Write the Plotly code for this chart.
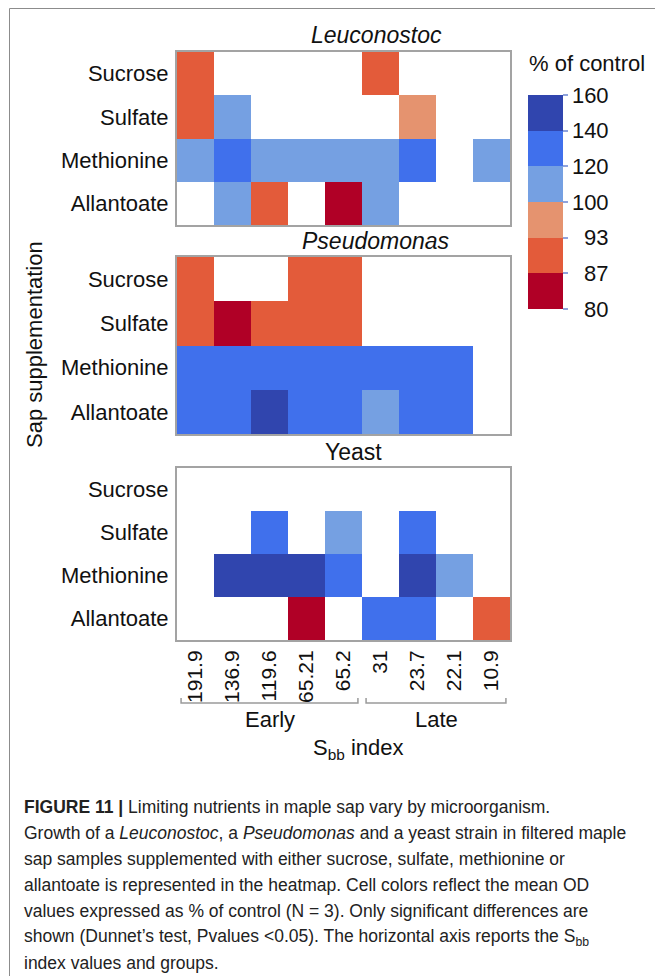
import numpy as np
import plotly.graph_objects as go

# ---------------- data ----------------
sbb_index = ["191.9", "136.9", "119.6", "65.21", "65.2", "31", "23.7", "22.1", "10.9"]
supplements = ["Sucrose", "Sulfate", "Methionine", "Allantoate"]
groups = ["Early", "Late"]
group_members = [5, 4]  # number of S_bb columns per group

# mean OD as % of control (blank = not significant)
leuconostoc = [
    [89, None, None, None, None, 90, None, None, None],
    [90, 112, None, None, None, None, 96, None, None],
    [110, 128, 109, 111, 110, 112, 127, None, 108],
    [None, 111, 90, None, 84, 110, None, None, None],
]
pseudomonas = [
    [90, None, None, 89, 90, None, None, None, None],
    [89, 83, 90, 91, 90, None, None, None, None],
    [128, 129, 130, 128, 127, 129, 130, 128, None],
    [129, 128, 148, 130, 129, 111, 128, 129, None],
]
yeast = [
    [None, None, None, None, None, None, None, None, None],
    [None, None, 128, None, 112, None, 129, None, None],
    [None, 146, 150, 147, 130, None, 152, 113, None],
    [None, None, None, 84, None, 127, 128, None, 90],
]
panel_titles = ["<i>Leuconostoc</i>", "<i>Pseudomonas</i>", "Yeast"]

bin_edges = [80, 87, 93, 100, 120, 140, 160]
bin_colors = ["#B00026", "#E35B3A", "#E5936F", "#75A0E2", "#4070EC", "#3045AE"]

# ---------------- layout helpers ----------------
W, H = 655, 976
FONT = "Liberation Sans, Arial, Helvetica, sans-serif"


def px(x):
    return x / W


def py(y):
    return 1 - y / H


def to_bins(rows):
    arr = np.array([[np.nan if v is None else v for v in r] for r in rows], dtype=float)
    idx = np.digitize(arr, bin_edges[1:-1]).astype(float) + 0.5
    idx[np.isnan(arr)] = np.nan
    return idx


n_bins = len(bin_colors)
colorscale = []
for i, c in enumerate(bin_colors):
    colorscale.append([i / n_bins, c])
    colorscale.append([(i + 1) / n_bins, c])

x_left, x_right = 177, 510
panels_px = [(52, 225), (257, 434), (468, 640)]
title_pos = [(376, 35), (376, 241), (353, 452)]

fig = go.Figure()
for k, data in enumerate([leuconostoc, pseudomonas, yeast]):
    sfx = "" if k == 0 else str(k + 1)
    fig.add_trace(go.Heatmap(
        z=to_bins(data), x=sbb_index, y=supplements,
        xaxis="x" + sfx, yaxis="y" + sfx,
        zmin=0, zmax=n_bins, colorscale=colorscale,
        showscale=(k == 0), hoverongaps=False,
        colorbar=dict(
            x=px(528), xanchor="left", xpad=0,
            y=py(95), yanchor="top", ypad=0,
            lenmode="pixels", len=214, thickness=35,
            outlinewidth=0,
            tickmode="array", tickvals=list(range(n_bins + 1)),
            ticktext=[("\u00a0\u00a0" + str(v)) if v < 100 else str(v) for v in bin_edges],
            ticks="outside", ticklen=5, tickwidth=1.5, tickcolor="#8fa3dc",
            tickfont=dict(family=FONT, size=22, color="#111"),
        ),
    ))
    top, bot = panels_px[k]
    axis_common = dict(showline=True, mirror=True, linecolor="#a3a3a3", linewidth=2,
                       showgrid=False, zeroline=False, ticks="")
    fig.layout["xaxis" + sfx] = dict(
        domain=[px(x_left), px(x_right)], anchor="y" + sfx,
        type="category", categoryorder="array", categoryarray=sbb_index,
        showticklabels=(k == 2), tickangle=-90,
        tickfont=dict(family=FONT, size=21, color="#111"),
        **axis_common,
    )
    fig.layout["yaxis" + sfx] = dict(
        domain=[py(bot), py(top)], anchor="x" + sfx,
        type="category", categoryorder="array", categoryarray=supplements,
        autorange="reversed",
        tickfont=dict(family=FONT, size=22, color="#111"),
        ticklabelstandoff=2,
        **axis_common,
    )
    tx, ty = title_pos[k]
    fig.add_annotation(text=panel_titles[k], xref="paper", yref="paper",
                       x=px(tx), y=py(ty),
                       showarrow=False, xanchor="center", yanchor="middle",
                       font=dict(family=FONT, size=23, color="#111"))

# group brackets under the S_bb tick labels
start = 0
bracket_y, tip_y = 703, 698
for g, n in zip(groups, group_members):
    x0, x1 = start - 0.39, start + n - 1 + 0.39
    fig.add_shape(type="path", xref="x3", yref="paper",
                  path=f"M {x0},{py(tip_y)} L {x0},{py(bracket_y)} L {x1},{py(bracket_y)} L {x1},{py(tip_y)}",
                  line=dict(color="#9a9a9a", width=1.5))
    fig.add_annotation(text=g, xref="x3", yref="paper",
                       x=start + (n - 1) / 2, y=py(719), showarrow=False,
                       xanchor="center", yanchor="middle",
                       font=dict(family=FONT, size=22, color="#111"))
    start += n

fig.add_annotation(text="S<sub>bb</sub> index", xref="paper", yref="paper",
                   x=px(358), y=py(749), showarrow=False, xanchor="center", yanchor="middle",
                   font=dict(family=FONT, size=22, color="#111"))
fig.add_annotation(text="Sap supplementation", xref="paper", yref="paper",
                   x=px(35), y=py(345), showarrow=False, textangle=-90,
                   xanchor="center", yanchor="middle",
                   font=dict(family=FONT, size=22, color="#111"))
fig.add_annotation(text="% of control", xref="paper", yref="paper",
                   x=px(527), y=py(64), showarrow=False, xanchor="left", yanchor="middle",
                   font=dict(family=FONT, size=22, color="#111"))

# caption
caption = [
    "<b>FIGURE 11 |</b> Limiting nutrients in maple sap vary by microorganism.",
    "Growth of a <i>Leuconostoc</i>, a <i>Pseudomonas</i> and a yeast strain in filtered maple",
    "sap samples supplemented with either sucrose, sulfate, methionine or",
    "allantoate is represented in the heatmap. Cell colors reflect the mean OD",
    "values expressed as % of control (N = 3). Only significant differences are",
    "shown (Dunnet\u2019s test, Pvalues &lt;0.05). The horizontal axis reports the S<sub>bb</sub>",
    "index values and groups.",
]
for i, line in enumerate(caption):
    fig.add_annotation(text=line, xref="paper", yref="paper",
                       x=px(22), y=py(807 + 26 * i), showarrow=False,
                       xanchor="left", yanchor="middle",
                       font=dict(family=FONT, size=17.5, color="#222"))

# outer frame (left and top edges)
fig.add_shape(type="path", xref="paper", yref="paper",
              path=f"M {px(9.5)},0 L {px(9.5)},{py(8.5)} L 1.01,{py(8.5)}",
              line=dict(color="#8c8c8c", width=1))

fig.update_layout(
    width=W, height=H, margin=dict(l=0, r=0, t=0, b=0),
    paper_bgcolor="white", plot_bgcolor="white",
    font=dict(family=FONT, color="#111"),
)
fig.write_html("out.html")
